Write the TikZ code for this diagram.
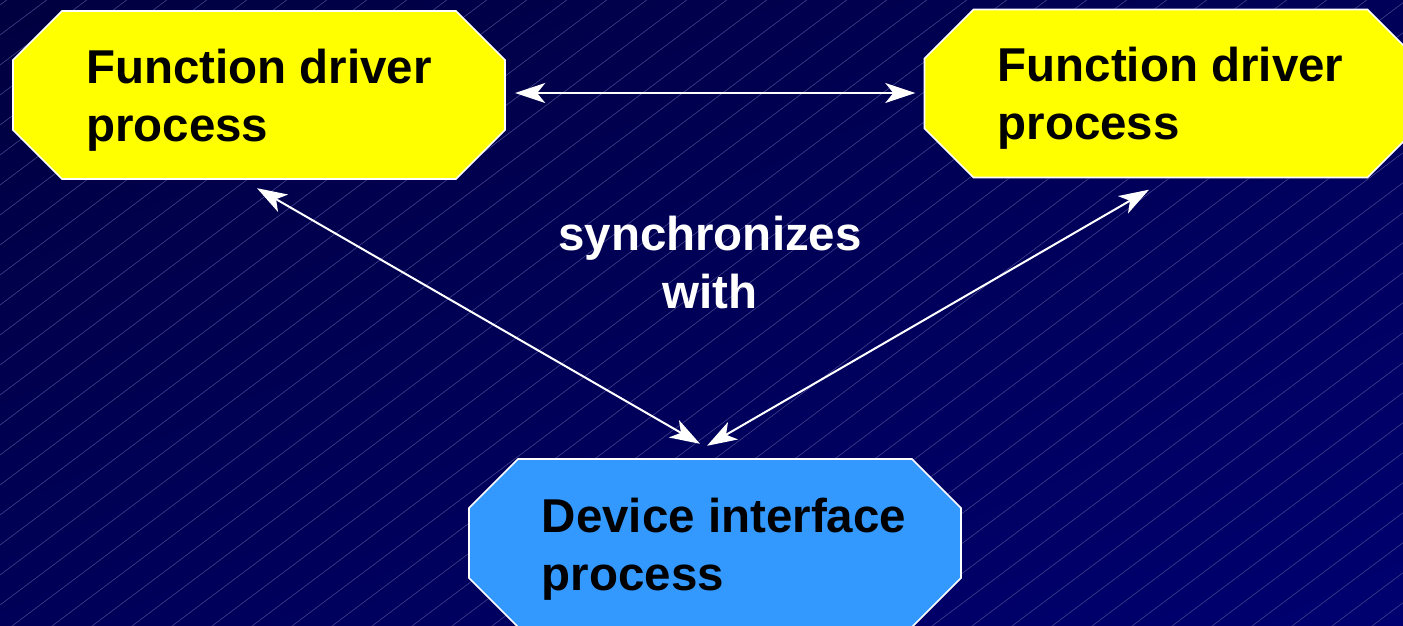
\documentclass[tikz,border=0pt]{standalone}
\usepackage{fontspec}
\setmainfont{Liberation Sans}
\usetikzlibrary{arrows.meta,shadings}

\definecolor{bgdark}{RGB}{0,0,64}
\definecolor{bgmid}{RGB}{0,0,88}
\definecolor{bglight}{RGB}{0,0,112}
\definecolor{hatch}{RGB}{84,84,152}
\definecolor{drvfill}{RGB}{255,255,0}
\definecolor{devfill}{RGB}{51,153,255}

% chamfered box outline around a centre coordinate
\newcommand\octagonbox[2]{%
  \filldraw[boxline, fill=#2]
    ([shift={(-197,-84)}]#1) -- ([shift={(197,-84)}]#1) --
    ([shift={(246,-35)}]#1) -- ([shift={(246,35)}]#1) --
    ([shift={(197,84)}]#1) -- ([shift={(-197,84)}]#1) --
    ([shift={(-246,35)}]#1) -- ([shift={(-246,-35)}]#1) -- cycle;}

\tikzset{
  boxline/.style={draw=white, line width=1.6pt, line join=miter},
  boxtext/.style={minimum width=492pt, minimum height=168pt, inner sep=0pt,
    align=left, text=black,
    font=\bfseries\fontsize{47.5}{58}\selectfont},
  link/.style={draw=white, line width=2pt,
    {Stealth[length=30pt,width=20pt,inset=8pt]}-{Stealth[length=30pt,width=20pt,inset=8pt]}},
  label/.style={align=center, text=white,
    font=\bfseries\fontsize{47.5}{58}\selectfont},
}

\begin{document}
\begin{tikzpicture}[x=1pt, y=-1pt]
  \useasboundingbox (0,0) rectangle (1403,626);
  \clip (0,0) rectangle (1403,626);

  % background: gradient with fine diagonal hatching
  \shade[upper left=bgdark, upper right=bgmid, lower left=bgmid, lower right=bglight]
    (0,0) rectangle (1403,626);
  \foreach \k in {0,...,56}{
    \draw[hatch, line width=0.45pt] (0,5+30*\k) -- (1403,5+30*\k-1052.25);
  }

  % box centres
  \coordinate (lc) at (259,95);
  \coordinate (rc) at (1170.5,93.5);
  \coordinate (dc) at (715,543);

  \octagonbox{lc}{drvfill}
  \octagonbox{rc}{drvfill}
  \octagonbox{dc}{devfill}

  % texts sit slightly below the box centre
  \node[boxtext, yshift=-5pt] (lbox) at (lc) {Function driver\\process};
  \node[boxtext, yshift=-5pt] (rbox) at (rc) {Function driver\\process};
  \node[boxtext, xshift=9pt, yshift=-6pt] (dbox) at (dc) {Device interface\\process};

  \node[label] (sync) at (710,262) {synchronizes\\with};

  % connectors
  \draw[link] ([shift={(10,-7)}]lbox.east) -- ([shift={(-9,-5.5)}]rbox.west);
  \draw[link] ([shift={(-2,4)}]lbox.south) -- ([shift={(-24,-21)}]dbox.north);
  \draw[link] ([shift={(-21.5,7)}]rbox.south) -- ([shift={(-17,-19)}]dbox.north);
\end{tikzpicture}
\end{document}
